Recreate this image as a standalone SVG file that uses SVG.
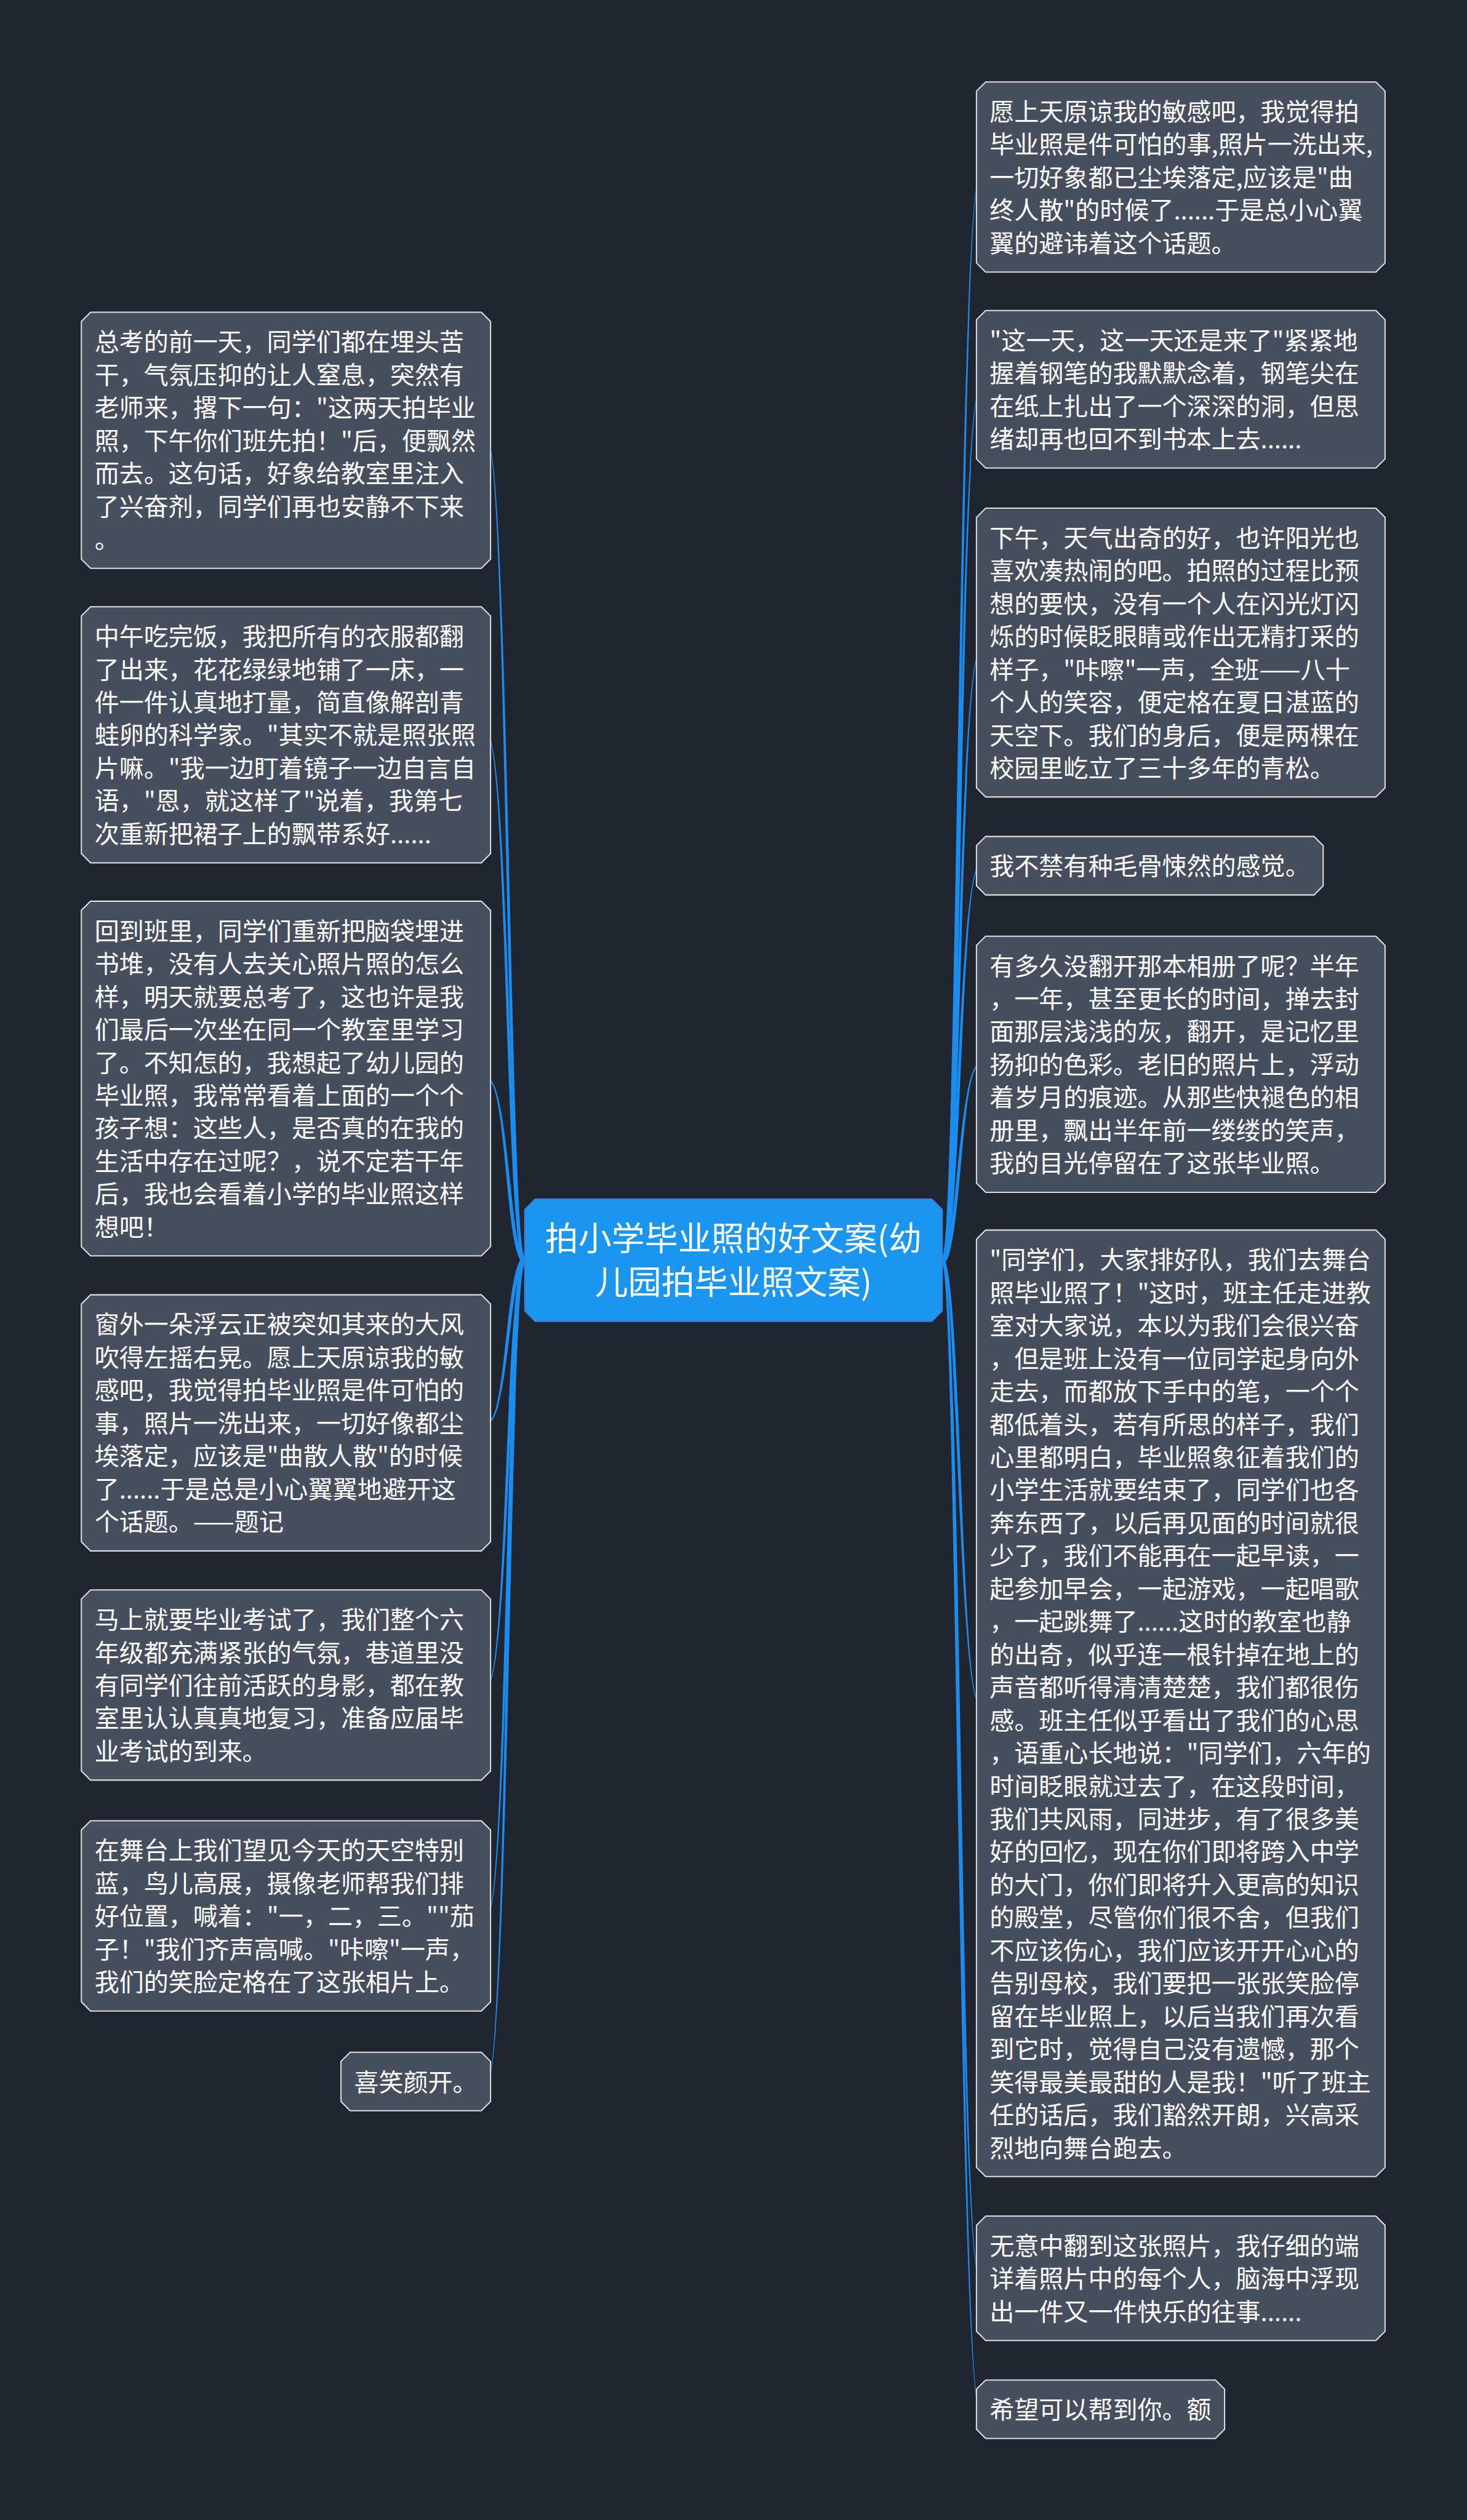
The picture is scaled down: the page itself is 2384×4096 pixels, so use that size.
<svg xmlns="http://www.w3.org/2000/svg" width="2384" height="4096" viewBox="0 0 2384 4096">
<defs>
<style>
.bg{fill:#21252f}
.node polygon{fill:#474e5d;stroke:#dedede;stroke-width:2.2}
.node text{font-family:"Noto Sans CJK SC","Noto Sans",sans-serif;font-size:43px;fill:#ffffff}
.link{fill:#1b8df0}
.root polygon{fill:#1a96ef;stroke:#3a80e2;stroke-width:2.5}
.root text{font-family:"Noto Sans CJK SC","Noto Sans",sans-serif;font-size:58px;fill:#ffffff;text-anchor:middle}
</style>
</defs>
<rect class="bg" x="0" y="0" width="2384" height="4096"/>
<g transform="scale(0.93125)">
<g id="connectors">
<path class="link" d="M916,2193 C890.5,2193 887.5,767.3 850,767.3 L850,769.7 C884.5,769.7 881.5,2207 916,2207Z"/>
<path class="link" d="M916,2193 C890.5,2193 887.5,1281.3 850,1281.3 L850,1283.7 C884.5,1283.7 881.5,2207 916,2207Z"/>
<path class="link" d="M916,2193 C890.5,2193 887.5,1881.3 850,1881.3 L850,1883.7 C884.5,1883.7 881.5,2207 916,2207Z"/>
<path class="link" d="M916,2193 C881.5,2193 884.5,2482.3 850,2482.3 L850,2484.7 C887.5,2484.7 890.5,2207 916,2207Z"/>
<path class="link" d="M916,2193 C881.5,2193 884.5,2939.8 850,2939.8 L850,2942.2 C887.5,2942.2 890.5,2207 916,2207Z"/>
<path class="link" d="M916,2193 C881.5,2193 884.5,3342.8 850,3342.8 L850,3345.2 C887.5,3345.2 890.5,2207 916,2207Z"/>
<path class="link" d="M916,2193 C881.5,2193 884.5,3631.8 850,3631.8 L850,3634.2 C887.5,3634.2 890.5,2207 916,2207Z"/>
<path class="link" d="M1644,2207 C1678.5,2207 1675.5,310.2 1710,310.2 L1710,307.8 C1672.5,307.8 1669.5,2193 1644,2193Z"/>
<path class="link" d="M1644,2207 C1678.5,2207 1675.5,680.7 1710,680.7 L1710,678.3 C1672.5,678.3 1669.5,2193 1644,2193Z"/>
<path class="link" d="M1644,2207 C1678.5,2207 1675.5,1140.2 1710,1140.2 L1710,1137.8 C1672.5,1137.8 1669.5,2193 1644,2193Z"/>
<path class="link" d="M1644,2207 C1678.5,2207 1675.5,1512.2 1710,1512.2 L1710,1509.8 C1672.5,1509.8 1669.5,2193 1644,2193Z"/>
<path class="link" d="M1644,2207 C1678.5,2207 1675.5,1858.7 1710,1858.7 L1710,1856.3 C1672.5,1856.3 1669.5,2193 1644,2193Z"/>
<path class="link" d="M1644,2207 C1669.5,2207 1672.5,2974.2 1710,2974.2 L1710,2971.8 C1675.5,2971.8 1678.5,2193 1644,2193Z"/>
<path class="link" d="M1644,2207 C1669.5,2207 1672.5,3977.7 1710,3977.7 L1710,3975.3 C1675.5,3975.3 1678.5,2193 1644,2193Z"/>
<path class="link" d="M1644,2207 C1669.5,2207 1672.5,4206.2 1710,4206.2 L1710,4203.8 C1675.5,4203.8 1678.5,2193 1644,2193Z"/>
</g>
<g id="root" class="root">
<polygon points="934,2093 1626,2093 1644,2111 1644,2288 1626,2306 934,2306 916,2288 916,2111"/>
<text x="1280" y="2183"><tspan x="1280">拍小学毕业照的好文案(幼</tspan><tspan x="1280" dy="76">儿园拍毕业照文案)</tspan></text>
</g>
<g id="node-l1" class="node">
<polygon points="158,545 840,545 856,561 856,976 840,992 158,992 142,976 142,561"/>
<text x="165" y="612.5"><tspan x="165">总考的前一天，同学们都在埋头苦</tspan><tspan x="165" dy="57.4">干，气氛压抑的让人窒息，突然有</tspan><tspan x="165" dy="57.4">老师来，撂下一句："这两天拍毕业</tspan><tspan x="165" dy="57.4">照，下午你们班先拍！"后，便飘然</tspan><tspan x="165" dy="57.4">而去。这句话，好象给教室里注入</tspan><tspan x="165" dy="57.4">了兴奋剂，同学们再也安静不下来</tspan><tspan x="165" dy="57.4">。</tspan></text>
</g>
<g id="node-l2" class="node">
<polygon points="158,1059 840,1059 856,1075 856,1490 840,1506 158,1506 142,1490 142,1075"/>
<text x="165" y="1126.5"><tspan x="165">中午吃完饭，我把所有的衣服都翻</tspan><tspan x="165" dy="57.4">了出来，花花绿绿地铺了一床，一</tspan><tspan x="165" dy="57.4">件一件认真地打量，简直像解剖青</tspan><tspan x="165" dy="57.4">蛙卵的科学家。"其实不就是照张照</tspan><tspan x="165" dy="57.4">片嘛。"我一边盯着镜子一边自言自</tspan><tspan x="165" dy="57.4">语，"恩，就这样了"说着，我第七</tspan><tspan x="165" dy="57.4">次重新把裙子上的飘带系好......</tspan></text>
</g>
<g id="node-l3" class="node">
<polygon points="158,1573 840,1573 856,1589 856,2176 840,2192 158,2192 142,2176 142,1589"/>
<text x="165" y="1640.5"><tspan x="165">回到班里，同学们重新把脑袋埋进</tspan><tspan x="165" dy="57.4">书堆，没有人去关心照片照的怎么</tspan><tspan x="165" dy="57.4">样，明天就要总考了，这也许是我</tspan><tspan x="165" dy="57.4">们最后一次坐在同一个教室里学习</tspan><tspan x="165" dy="57.4">了。不知怎的，我想起了幼儿园的</tspan><tspan x="165" dy="57.4">毕业照，我常常看着上面的一个个</tspan><tspan x="165" dy="57.4">孩子想：这些人，是否真的在我的</tspan><tspan x="165" dy="57.4">生活中存在过呢？，说不定若干年</tspan><tspan x="165" dy="57.4">后，我也会看着小学的毕业照这样</tspan><tspan x="165" dy="57.4">想吧！</tspan></text>
</g>
<g id="node-l4" class="node">
<polygon points="158,2260 840,2260 856,2276 856,2691 840,2707 158,2707 142,2691 142,2276"/>
<text x="165" y="2327.5"><tspan x="165">窗外一朵浮云正被突如其来的大风</tspan><tspan x="165" dy="57.4">吹得左摇右晃。愿上天原谅我的敏</tspan><tspan x="165" dy="57.4">感吧，我觉得拍毕业照是件可怕的</tspan><tspan x="165" dy="57.4">事，照片一洗出来，一切好像都尘</tspan><tspan x="165" dy="57.4">埃落定，应该是"曲散人散"的时候</tspan><tspan x="165" dy="57.4">了......于是总是小心翼翼地避开这</tspan><tspan x="165" dy="57.4">个话题。——题记</tspan></text>
</g>
<g id="node-l5" class="node">
<polygon points="158,2775 840,2775 856,2791 856,3091 840,3107 158,3107 142,3091 142,2791"/>
<text x="165" y="2842.5"><tspan x="165">马上就要毕业考试了，我们整个六</tspan><tspan x="165" dy="57.4">年级都充满紧张的气氛，巷道里没</tspan><tspan x="165" dy="57.4">有同学们往前活跃的身影，都在教</tspan><tspan x="165" dy="57.4">室里认认真真地复习，准备应届毕</tspan><tspan x="165" dy="57.4">业考试的到来。</tspan></text>
</g>
<g id="node-l6" class="node">
<polygon points="158,3178 840,3178 856,3194 856,3494 840,3510 158,3510 142,3494 142,3194"/>
<text x="165" y="3245.5"><tspan x="165">在舞台上我们望见今天的天空特别</tspan><tspan x="165" dy="57.4">蓝，鸟儿高展，摄像老师帮我们排</tspan><tspan x="165" dy="57.4">好位置，喊着："一，二，三。""茄</tspan><tspan x="165" dy="57.4">子！"我们齐声高喊。"咔嚓"一声，</tspan><tspan x="165" dy="57.4">我们的笑脸定格在了这张相片上。</tspan></text>
</g>
<g id="node-l7" class="node">
<polygon points="611,3582 840,3582 856,3598 856,3668 840,3684 611,3684 595,3668 595,3598"/>
<text x="618" y="3649.5">喜笑颜开。</text>
</g>
<g id="node-r1" class="node">
<polygon points="1720,143 2401,143 2417,159 2417,459 2401,475 1720,475 1704,459 1704,159"/>
<text x="1727" y="210.5"><tspan x="1727">愿上天原谅我的敏感吧，我觉得拍</tspan><tspan x="1727" dy="57.4">毕业照是件可怕的事,照片一洗出来,</tspan><tspan x="1727" dy="57.4">一切好象都已尘埃落定,应该是"曲</tspan><tspan x="1727" dy="57.4">终人散"的时候了......于是总小心翼</tspan><tspan x="1727" dy="57.4">翼的避讳着这个话题。</tspan></text>
</g>
<g id="node-r2" class="node">
<polygon points="1720,542 2401,542 2417,558 2417,801 2401,817 1720,817 1704,801 1704,558"/>
<text x="1727" y="609.5"><tspan x="1727">"这一天，这一天还是来了"紧紧地</tspan><tspan x="1727" dy="57.4">握着钢笔的我默默念着，钢笔尖在</tspan><tspan x="1727" dy="57.4">在纸上扎出了一个深深的洞，但思</tspan><tspan x="1727" dy="57.4">绪却再也回不到书本上去......</tspan></text>
</g>
<g id="node-r3" class="node">
<polygon points="1720,887 2401,887 2417,903 2417,1375 2401,1391 1720,1391 1704,1375 1704,903"/>
<text x="1727" y="954.5"><tspan x="1727">下午，天气出奇的好，也许阳光也</tspan><tspan x="1727" dy="57.4">喜欢凑热闹的吧。拍照的过程比预</tspan><tspan x="1727" dy="57.4">想的要快，没有一个人在闪光灯闪</tspan><tspan x="1727" dy="57.4">烁的时候眨眼睛或作出无精打采的</tspan><tspan x="1727" dy="57.4">样子，"咔嚓"一声，全班——八十</tspan><tspan x="1727" dy="57.4">个人的笑容，便定格在夏日湛蓝的</tspan><tspan x="1727" dy="57.4">天空下。我们的身后，便是两棵在</tspan><tspan x="1727" dy="57.4">校园里屹立了三十多年的青松。</tspan></text>
</g>
<g id="node-r4" class="node">
<polygon points="1720,1460 2293,1460 2309,1476 2309,1546 2293,1562 1720,1562 1704,1546 1704,1476"/>
<text x="1727" y="1527.5">我不禁有种毛骨悚然的感觉。</text>
</g>
<g id="node-r5" class="node">
<polygon points="1720,1634 2401,1634 2417,1650 2417,2065 2401,2081 1720,2081 1704,2065 1704,1650"/>
<text x="1727" y="1701.5"><tspan x="1727">有多久没翻开那本相册了呢？半年</tspan><tspan x="1727" dy="57.4">，一年，甚至更长的时间，掸去封</tspan><tspan x="1727" dy="57.4">面那层浅浅的灰，翻开，是记忆里</tspan><tspan x="1727" dy="57.4">扬抑的色彩。老旧的照片上，浮动</tspan><tspan x="1727" dy="57.4">着岁月的痕迹。从那些快褪色的相</tspan><tspan x="1727" dy="57.4">册里，飘出半年前一缕缕的笑声，</tspan><tspan x="1727" dy="57.4">我的目光停留在了这张毕业照。</tspan></text>
</g>
<g id="node-r6" class="node">
<polygon points="1720,2147 2401,2147 2417,2163 2417,3783 2401,3799 1720,3799 1704,3783 1704,2163"/>
<text x="1727" y="2214.5"><tspan x="1727">"同学们，大家排好队，我们去舞台</tspan><tspan x="1727" dy="57.4">照毕业照了！"这时，班主任走进教</tspan><tspan x="1727" dy="57.4">室对大家说，本以为我们会很兴奋</tspan><tspan x="1727" dy="57.4">，但是班上没有一位同学起身向外</tspan><tspan x="1727" dy="57.4">走去，而都放下手中的笔，一个个</tspan><tspan x="1727" dy="57.4">都低着头，若有所思的样子，我们</tspan><tspan x="1727" dy="57.4">心里都明白，毕业照象征着我们的</tspan><tspan x="1727" dy="57.4">小学生活就要结束了，同学们也各</tspan><tspan x="1727" dy="57.4">奔东西了，以后再见面的时间就很</tspan><tspan x="1727" dy="57.4">少了，我们不能再在一起早读，一</tspan><tspan x="1727" dy="57.4">起参加早会，一起游戏，一起唱歌</tspan><tspan x="1727" dy="57.4">，一起跳舞了......这时的教室也静</tspan><tspan x="1727" dy="57.4">的出奇，似乎连一根针掉在地上的</tspan><tspan x="1727" dy="57.4">声音都听得清清楚楚，我们都很伤</tspan><tspan x="1727" dy="57.4">感。班主任似乎看出了我们的心思</tspan><tspan x="1727" dy="57.4">，语重心长地说："同学们，六年的</tspan><tspan x="1727" dy="57.4">时间眨眼就过去了，在这段时间，</tspan><tspan x="1727" dy="57.4">我们共风雨，同进步，有了很多美</tspan><tspan x="1727" dy="57.4">好的回忆，现在你们即将跨入中学</tspan><tspan x="1727" dy="57.4">的大门，你们即将升入更高的知识</tspan><tspan x="1727" dy="57.4">的殿堂，尽管你们很不舍，但我们</tspan><tspan x="1727" dy="57.4">不应该伤心，我们应该开开心心的</tspan><tspan x="1727" dy="57.4">告别母校，我们要把一张张笑脸停</tspan><tspan x="1727" dy="57.4">留在毕业照上，以后当我们再次看</tspan><tspan x="1727" dy="57.4">到它时，觉得自己没有遗憾，那个</tspan><tspan x="1727" dy="57.4">笑得最美最甜的人是我！"听了班主</tspan><tspan x="1727" dy="57.4">任的话后，我们豁然开朗，兴高采</tspan><tspan x="1727" dy="57.4">烈地向舞台跑去。</tspan></text>
</g>
<g id="node-r7" class="node">
<polygon points="1720,3868 2401,3868 2417,3884 2417,4069 2401,4085 1720,4085 1704,4069 1704,3884"/>
<text x="1727" y="3935.5"><tspan x="1727">无意中翻到这张照片，我仔细的端</tspan><tspan x="1727" dy="57.4">详着照片中的每个人，脑海中浮现</tspan><tspan x="1727" dy="57.4">出一件又一件快乐的往事......</tspan></text>
</g>
<g id="node-r8" class="node">
<polygon points="1720,4154 2121,4154 2137,4170 2137,4240 2121,4256 1720,4256 1704,4240 1704,4170"/>
<text x="1727" y="4221.5">希望可以帮到你。额</text>
</g>
</g>
</svg>
